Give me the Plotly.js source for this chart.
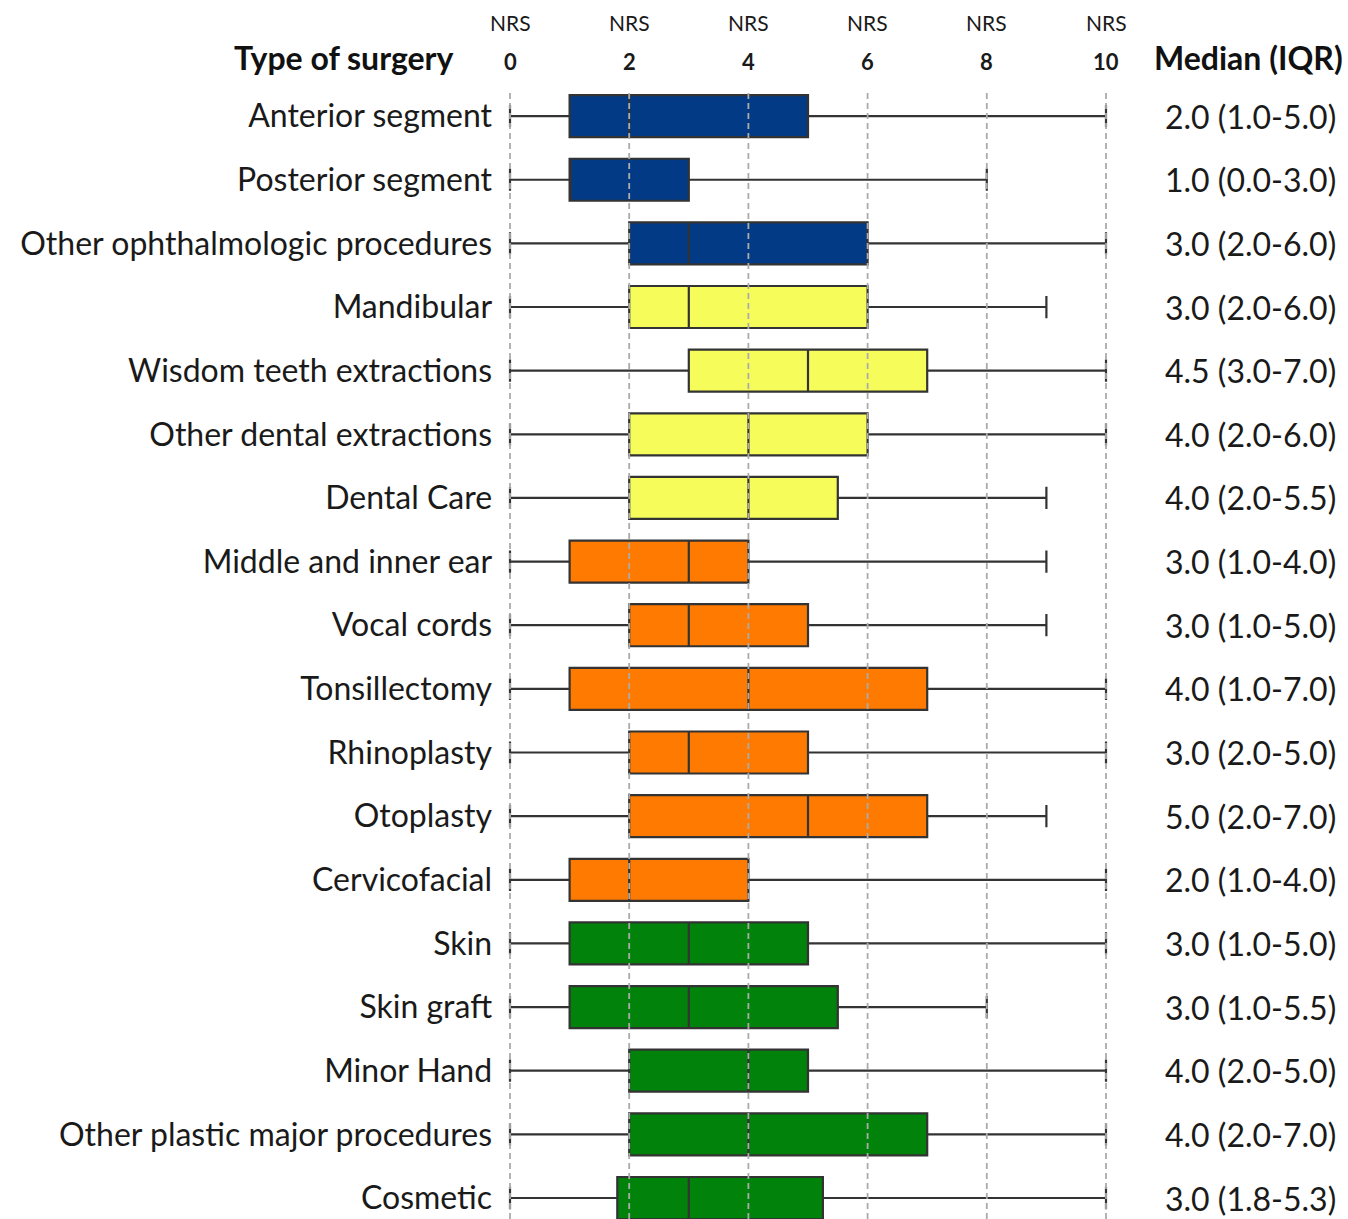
<!DOCTYPE html>
<html>
<head>
<meta charset="utf-8">
<script src="https://cdn.plot.ly/plotly-3.0.1.min.js"></script>
<style>html,body{margin:0;padding:0;background:#fff;}#chart{width:1348px;height:1219px;}</style>
</head>
<body>
<div id="chart"></div>
<script>
const categories = ["Anterior segment","Posterior segment","Other ophthalmologic procedures","Mandibular","Wisdom teeth extractions","Other dental extractions","Dental Care","Middle and inner ear","Vocal cords","Tonsillectomy","Rhinoplasty","Otoplasty","Cervicofacial","Skin","Skin graft","Minor Hand","Other plastic major procedures","Cosmetic"];
const groupOf = [0,0,0,1,1,1,1,2,2,2,2,2,2,3,3,3,3,3];
const lowerFence = [0,0,0,0,0,0,0,0,0,0,0,0,0,0,0,0,0,0];
const q1Values   = [1,1,2,2,3,2,2,1,2,1,2,2,1,1,1,2,2,1.8];
const medValues  = [2,1,3,3,5,4,4,3,3,4,3,5,2,3,3,4,4,3];
const q3Values   = [5,3,6,6,7,6,5.5,4,5,7,5,7,4,5,5.5,5,7,5.25];
const upperFence = [10,8,10,9,10,10,9,9,9,10,10,9,10,10,8,10,10,10];
const medianLabels = ["2.0 (1.0-5.0)","1.0 (0.0-3.0)","3.0 (2.0-6.0)","3.0 (2.0-6.0)","4.5 (3.0-7.0)","4.0 (2.0-6.0)","4.0 (2.0-5.5)","3.0 (1.0-4.0)","3.0 (1.0-5.0)","4.0 (1.0-7.0)","3.0 (2.0-5.0)","5.0 (2.0-7.0)","2.0 (1.0-4.0)","3.0 (1.0-5.0)","3.0 (1.0-5.5)","4.0 (2.0-5.0)","4.0 (2.0-7.0)","3.0 (1.8-5.3)"];
const groupColors = ["#033a86","#f6fd5b","#fe7a00","#01820a"];
const tickVals = [0,2,4,6,8,10];
const tickNums = ["0","2","4","6","8","10"];
const tickTop = "NRS";

const FONT = "Lato, 'Open Sans', sans-serif";
const traces = groupColors.map((col, g) => {
  const idx = categories.map((c,i)=>i).filter(i=>groupOf[i]===g);
  return {
    type: "box", orientation: "h",
    y: idx.map(i=>categories[i]),
    lowerfence: idx.map(i=>lowerFence[i]),
    q1: idx.map(i=>q1Values[i]),
    median: idx.map(i=>medValues[i]),
    q3: idx.map(i=>q3Values[i]),
    upperfence: idx.map(i=>upperFence[i]),
    fillcolor: col,
    line: {color: "#333333", width: 2.2},
    whiskerwidth: 0.53,
    width: 0.66,
    boxpoints: false,
    hoverinfo: "skip",
    showlegend: false
  };
});

const W = 1348, PX0 = 510, PXU = 59.6;
const xr = [-0.25, 10.3];
const dom = [(PX0 + xr[0]*PXU)/W, (PX0 + xr[1]*PXU)/W];

const annotations = [];
tickVals.forEach((v,k)=>{
  annotations.push({x:v, xref:"x", y:1, yref:"paper", yanchor:"middle", yshift:68, text:tickTop, showarrow:false, font:{family:FONT, size:21, color:"#1a1a1a"}});
  annotations.push({x:v, xref:"x", y:1, yref:"paper", yanchor:"middle", yshift:29, text:"<b>"+tickNums[k]+"</b>", showarrow:false, font:{family:FONT, size:22, color:"#1a1a1a"}});
});
annotations.push({x:456/W, xref:"paper", xanchor:"right", y:1, yref:"paper", yanchor:"middle", yshift:33, text:"<b>Type of surgery</b>", showarrow:false, font:{family:FONT, size:32, color:"#111"}});
annotations.push({x:1248/W, xref:"paper", xanchor:"center", y:1, yref:"paper", yanchor:"middle", yshift:33, text:"<b>Median (IQR)</b>", showarrow:false, font:{family:FONT, size:32, color:"#111"}});
categories.forEach((c,i)=>{
  annotations.push({x:1250/W, xref:"paper", xanchor:"center", y:c, yref:"y", yanchor:"middle", text:medianLabels[i], showarrow:false, font:{family:FONT, size:32, color:"#1a1a1a"}});
});

const shapes = tickVals.map(v=>({type:"line", layer:"above", xref:"x", x0:v, x1:v, yref:"paper", y0:0, y1:1, line:{color:"#ababab", width:1.8, dash:"6px,4px"}}));

const layout = {
  width: 1348, height: 1219,
  margin: {l:0, r:0, t:90, b:0},
  paper_bgcolor: "#fff", plot_bgcolor: "#fff",
  boxmode: "overlay",
  xaxis: {domain: dom, range: xr, showgrid:false, zeroline:false, showticklabels:false, ticks:"", showline:false, fixedrange:true},
  yaxis: {type:"category", categoryorder:"array", categoryarray: categories, range:[17.33,-0.41], showgrid:false, zeroline:false, showline:false, ticks:"", ticklabelstandoff:2, tickfont:{family:FONT, size:32, color:"#1a1a1a"}, fixedrange:true},
  annotations: annotations,
  shapes: shapes,
  font: {family: FONT}
};
Plotly.newPlot("chart", traces, layout, {displayModeBar:false, staticPlot:true});
</script>
</body>
</html>
